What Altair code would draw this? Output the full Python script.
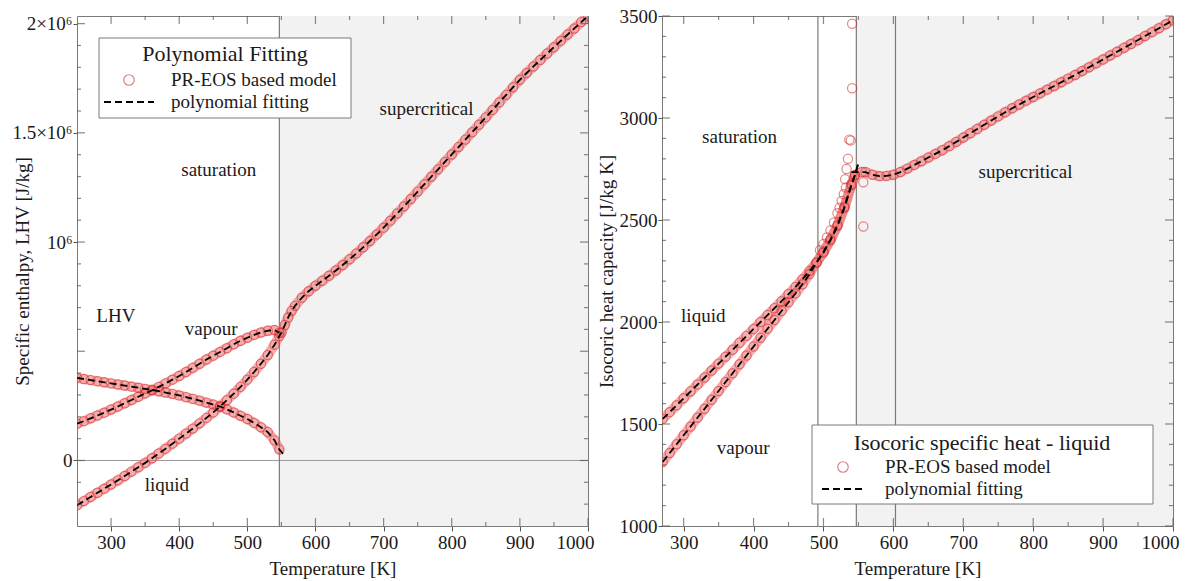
import altair as alt
import pandas as pd

# ---------------- Left panel: specific enthalpy / LHV [J/kg] ----------------
T_sat_L = [250, 260, 270, 280, 290, 300, 310, 320, 330, 340,
           350, 360, 370, 380, 390, 400, 410, 420, 430, 440,
           450, 460, 470, 480, 490, 500, 510, 520, 530, 540, 547]
h_liquid = [-205000, -186000, -167000, -148000, -129000, -110000, -91000, -71000, -51000, -31000,
            -11000, 10000, 32000, 54000, 77000, 100000, 123000, 146000, 170000, 195000,
            220000, 247000, 276000, 306000, 337000, 370000, 405000, 443000, 483000, 530000, 570000]
h_vapour = [168000, 180000, 193000, 206000, 219000, 233000, 247000, 262000, 277000, 292000,
            307000, 321000, 337000, 353000, 370000, 387000, 405000, 424000, 443000, 462000,
            480000, 497000, 514000, 532000, 548000, 562000, 575000, 586000, 594000, 597000, 585000]
h_lhv = [378000, 373000, 368000, 363000, 358000, 353000, 348000, 343000, 338000, 333000,
         328000, 323000, 317000, 311000, 305000, 298000, 290000, 282000, 274000, 265000,
         256000, 247000, 234000, 220000, 205000, 190000, 172000, 152000, 130000, 92000, 50000]
T_sc_L = [550, 555, 560, 565, 570, 580, 590, 600, 610, 620, 630, 640, 650, 660, 670, 680, 690,
          700, 710, 720, 730, 740, 750, 760, 770, 780, 790, 800, 810, 820, 830, 840, 850,
          860, 870, 880, 890, 900, 910, 920, 930, 940, 950, 960, 970, 980, 990, 1000]
h_super = [585000, 620000, 655000, 685000, 708000, 745000, 775000, 800000, 823000, 846000,
           870000, 895000, 921000, 948000, 976000, 1005000, 1035000,
           1066000, 1098000, 1131000, 1164000, 1197000, 1231000, 1265000, 1299000, 1333000,
           1367000, 1401000, 1435000, 1469000, 1503000, 1537000, 1571000,
           1605000, 1640000, 1674000, 1709000, 1743000, 1774000, 1804000, 1834000, 1863000,
           1892000, 1921000, 1950000, 1978000, 2007000, 2035000]
T_lhv_fit_end = [556]
h_lhv_fit_end = [18000]
crit_L = [547]
shade_L = [547, 1000]
zero_L = [0]
xdom_L = [250, 1000]
ydom_L = [-300000, 2035000]
ann_L_text = ["saturation", "supercritical", "LHV", "vapour", "liquid"]
ann_L_T = [458, 763, 307, 447, 382]
ann_L_v = [1332000, 1607000, 660000, 604000, -110000]
xmaj_L = [300, 400, 500, 600, 700, 800, 900, 1000]
xmin_L = [350, 450, 550, 650, 750, 850, 950]
ymaj_L = [0, 500000, 1000000, 1500000, 2000000]
ymin_L = [-200000, -100000, 100000, 200000, 300000, 400000, 600000, 700000, 800000, 900000,
          1100000, 1200000, 1300000, 1400000, 1600000, 1700000, 1800000, 1900000]
ylab_L = [0, 1000000, 1500000, 2000000]

# ---------------- Right panel: isochoric heat capacity [J/kg K] ----------------
T_sat_R = [270, 280, 290, 300, 310, 320, 330, 340, 350, 360, 370, 380, 390, 400,
           410, 420, 430, 440, 450, 460, 470, 480, 490, 500, 510, 520, 530, 540, 545]
cv_liquid = [1525, 1558, 1592, 1626, 1660, 1694, 1728, 1762, 1796, 1830, 1864, 1898, 1932, 1966,
             2000, 2034, 2068, 2102, 2137, 2172, 2210, 2250, 2292, 2340, 2400, 2470, 2560, 2670, 2720]
cv_vapour = [1314, 1358, 1401, 1445, 1488, 1532, 1575, 1619, 1662, 1706, 1749, 1793, 1836, 1880,
             1923, 1967, 2010, 2054, 2097, 2140, 2185, 2235, 2290, 2345, 2405, 2475, 2565, 2675, 2720]
T_cluster = [495, 500, 505, 510, 515, 520, 523, 526, 529, 532]
cv_cluster = [2352, 2382, 2414, 2449, 2488, 2533, 2560, 2593, 2626, 2659]
T_outlier = [541, 541, 537, 539, 535, 533, 531, 557, 557]
cv_outlier = [3462, 3146, 2894, 2890, 2800, 2750, 2700, 2685, 2468]
T_sc_R = [555, 560, 570, 580, 590, 600, 610, 620, 630, 640, 650, 660, 670, 680, 690,
          700, 710, 720, 730, 740, 750, 760, 770, 780, 790, 800, 810, 820, 830, 840, 850,
          860, 870, 880, 890, 900, 910, 920, 930, 940, 950, 960, 970, 980, 990, 1000]
cv_super = [2735, 2735, 2722, 2715, 2716, 2722, 2735, 2752, 2770, 2788, 2806, 2824, 2842, 2862, 2883,
            2904, 2925, 2946, 2967, 2988, 3008, 3028, 3048, 3066, 3085, 3103, 3121, 3139, 3157, 3175, 3193,
            3211, 3230, 3249, 3268, 3287, 3306, 3325, 3344, 3363, 3382, 3402, 3421, 3440, 3460, 3479]
T_sat_fit_end = [550]
cv_sat_fit_end = [2780]
T_sc_fit_start = [540]
cv_sc_fit_start = [2735]
vlines_R = [492, 547, 603]
shade_R = [547, 1000]
xdom_R = [269, 1000]
ydom_R = [1000, 3500]
ann_R_text = ["saturation", "supercritical", "liquid", "vapour"]
ann_R_T = [380, 789, 328, 385]
ann_R_v = [2906, 2734, 2031, 1383]
xmaj_R = [300, 400, 500, 600, 700, 800, 900, 1000]
xmin_R = [350, 450, 550, 650, 750, 850, 950]
ymaj_R = [1000, 1500, 2000, 2500, 3000, 3500]
ymin_R = [1100, 1200, 1300, 1400, 1600, 1700, 1800, 1900, 2100, 2200, 2300, 2400,
          2600, 2700, 2800, 2900, 3100, 3200, 3300, 3400]

# ---------------- styling ----------------
FONT = "Liberation Serif"
INK = "#1a1a1a"
GRAY = "#7a7a7a"
TICK = "#555555"
RED = "#d42a2a"
BAND = "#ec6a6a"
W, H = 511, 510
MAJ, MIN = 8, 4


def frame(rows):
    return pd.DataFrame(rows, columns=["curve", "T", "v"])


def axes_layers(df, sx, sy, xlabels, ylabels, ylabel_expr, yfmt, ytitle, ytitle_x):
    base = alt.Chart(df).mark_point(opacity=0)
    xlab = alt.Axis(orient="bottom", values=xlabels, ticks=True, tickSize=5, tickColor=TICK,
                    tickWidth=1, domain=True, domainColor=GRAY,
                    grid=False, title="Temperature [K]", labelFontSize=19, titleFontSize=19,
                    labelPadding=2, titleY=42, titleBaseline="middle", titleFontWeight="normal",
                    labelFont=FONT, titleFont=FONT, labelColor=INK, titleColor=INK,
                    format="d", labelFlush=True, labelFlushOffset=6)
    ykw = dict(orient="left", values=ylabels, ticks=True, tickSize=4, tickColor=TICK, tickWidth=1,
               domain=True, domainColor=GRAY,
               grid=False, title=ytitle, labelFontSize=19, titleFontSize=19, labelPadding=1,
               titleX=ytitle_x, titleBaseline="middle", titleFontWeight="normal",
               labelFont=FONT, titleFont=FONT, labelColor=INK, titleColor=INK)
    if ylabel_expr:
        ykw["labelExpr"] = ylabel_expr
    else:
        ykw["format"] = yfmt
    ylab = alt.Axis(**ykw)
    xtop = alt.Axis(orient="bottom", offset=-H, ticks=False, labels=False, domain=True,
                    domainColor=GRAY, grid=False, title="")
    yright = alt.Axis(orient="left", offset=-W, ticks=False, labels=False, domain=True,
                      domainColor=GRAY, grid=False, title="")
    return [
        base.encode(x=alt.X("T:Q", scale=sx, axis=xlab), y=alt.Y("v:Q", scale=sy, axis=ylab)),
        base.encode(x=alt.X("T:Q", scale=sx, axis=xtop), y=alt.Y("v:Q", scale=sy, axis=yright)),
    ]


def tick_marks(sx, sy, xmaj, xmin, ymaj, ymin):
    """Inward-pointing axis ticks on all four sides (positions from the tick value lists)."""
    layers = []
    for vals, L in ((xmaj, MAJ), (xmin, MIN)):
        df = pd.DataFrame({"tick": vals})
        xe = alt.X("tick:Q", scale=sx, axis=None)
        layers.append(alt.Chart(df).mark_tick(color=TICK, size=L, thickness=1.2).encode(
            x=xe, y=alt.value(H - L / 2)))
        layers.append(alt.Chart(df).mark_tick(color=TICK, size=L, thickness=1.2).encode(
            x=xe, y=alt.value(L / 2)))
    for vals, L in ((ymaj, MAJ), (ymin, MIN)):
        df = pd.DataFrame({"tick": vals})
        ye = alt.Y("tick:Q", scale=sy, axis=None)
        layers.append(alt.Chart(df).mark_tick(color=TICK, size=L, thickness=1.2).encode(
            y=ye, x=alt.value(L / 2)))
        layers.append(alt.Chart(df).mark_tick(color=TICK, size=L, thickness=1.2).encode(
            y=ye, x=alt.value(W - L / 2)))
    return layers


def data_layers(band_df, pr_df, fit_df, sx, sy):
    band = alt.Chart(band_df).mark_line(color=BAND, strokeWidth=10, opacity=0.55, clip=True,
                                        strokeCap="round").encode(
        x=alt.X("T:Q", scale=sx, axis=None), y=alt.Y("v:Q", scale=sy, axis=None), detail="curve:N")
    pts = alt.Chart(pr_df).mark_point(shape="circle", filled=False, size=85, color=RED,
                                      strokeWidth=1.2, opacity=0.55, clip=True).encode(
        x=alt.X("T:Q", scale=sx, axis=None), y=alt.Y("v:Q", scale=sy, axis=None))
    fit = alt.Chart(fit_df).mark_line(color="black", strokeWidth=1.8, strokeDash=[7, 4], clip=True).encode(
        x=alt.X("T:Q", scale=sx, axis=None), y=alt.Y("v:Q", scale=sy, axis=None), detail="curve:N")
    return [band, pts, fit]


def legend_layers(box, title, title_xy, circ_xy, line_x, line_y, text_x):
    one = alt.Chart(pd.DataFrame({"k": [0]}))
    return [
        one.mark_rect(fill="white", stroke=GRAY, strokeWidth=1).encode(
            x=alt.value(box[0]), x2=alt.value(box[1]), y=alt.value(box[2]), y2=alt.value(box[3])),
        one.mark_text(font=FONT, fontSize=22, color=INK, align="center", baseline="middle").encode(
            x=alt.value(title_xy[0]), y=alt.value(title_xy[1]), text=alt.value(title)),
        one.mark_point(shape="circle", filled=False, size=110, color=RED, strokeWidth=1.2, opacity=0.6).encode(
            x=alt.value(circ_xy[0]), y=alt.value(circ_xy[1])),
        one.mark_text(font=FONT, fontSize=19, color=INK, align="left", baseline="middle").encode(
            x=alt.value(text_x), y=alt.value(circ_xy[1]), text=alt.value("PR-EOS based model")),
        one.mark_rule(color="black", strokeWidth=2, strokeDash=[7, 4]).encode(
            x=alt.value(line_x[0]), x2=alt.value(line_x[1]), y=alt.value(line_y)),
        one.mark_text(font=FONT, fontSize=19, color=INK, align="left", baseline="middle").encode(
            x=alt.value(text_x), y=alt.value(line_y), text=alt.value("polynomial fitting")),
    ]


# ---------------- build left panel ----------------
sxL = alt.Scale(domain=xdom_L, nice=False, zero=False)
syL = alt.Scale(domain=ydom_L, nice=False, zero=False)

liqL = [("liquid", t, v) for t, v in zip(T_sat_L + T_sc_L, h_liquid + h_super)]
vapL = [("vapour", t, v) for t, v in zip(T_sat_L, h_vapour)]
lhvL = [("lhv", t, v) for t, v in zip(T_sat_L, h_lhv)]
prL = frame(liqL + vapL + lhvL)
fitL = frame(liqL + vapL + lhvL + [("lhv", t, v) for t, v in zip(T_lhv_fit_end, h_lhv_fit_end)])

shadeL = alt.Chart(pd.DataFrame({"a": [shade_L[0]], "b": [shade_L[1]]})).mark_rect(color="#f2f2f2").encode(
    x=alt.X("a:Q", scale=sxL, axis=None), x2="b:Q", y=alt.value(0), y2=alt.value(H))
zeroL = alt.Chart(pd.DataFrame({"z": zero_L})).mark_rule(color="#9a9a9a", strokeWidth=1).encode(
    y=alt.Y("z:Q", scale=syL, axis=None))
critL = alt.Chart(pd.DataFrame({"c": crit_L})).mark_rule(color=GRAY, strokeWidth=1.2).encode(
    x=alt.X("c:Q", scale=sxL, axis=None))
annL = alt.Chart(pd.DataFrame({"T": ann_L_T, "v": ann_L_v, "t": ann_L_text})).mark_text(
    font=FONT, fontSize=19, color=INK, baseline="middle").encode(
    x=alt.X("T:Q", scale=sxL, axis=None), y=alt.Y("v:Q", scale=syL, axis=None), text="t:N")

ylabL = ("datum.value == 0 ? '0' : datum.value == 1000000 ? '10⁶' : datum.value == 1500000 ? "
         "'1.5×10⁶' : datum.value == 2000000 ? '2×10⁶' : ''")

left = alt.layer(
    shadeL, zeroL, critL,
    *data_layers(prL, prL, fitL, sxL, syL),
    annL,
    *legend_layers([22, 274, 22, 102], "Polynomial Fitting", (148, 38), (52, 64), (27, 77), 86, 94),
    *axes_layers(prL, sxL, syL, xmaj_L, ylab_L, ylabL, "", "Specific enthalpy, LHV [J/kg]", -55),
    *tick_marks(sxL, syL, xmaj_L, xmin_L, ymaj_L, ymin_L),
).resolve_scale(x="shared", y="shared").resolve_axis(x="independent", y="independent").properties(
    width=W, height=H)

# ---------------- build right panel ----------------
sxR = alt.Scale(domain=xdom_R, nice=False, zero=False)
syR = alt.Scale(domain=ydom_R, nice=False, zero=False)

liqR = [("liquid", t, v) for t, v in zip(T_sat_R, cv_liquid)]
vapR = [("vapour", t, v) for t, v in zip(T_sat_R, cv_vapour)]
scR = [("super", t, v) for t, v in zip(T_sc_R, cv_super)]
bandR = frame(liqR + vapR + scR)
prR = frame(liqR + vapR + scR
            + [("cluster", t, v) for t, v in zip(T_cluster, cv_cluster)]
            + [("outlier", t, v) for t, v in zip(T_outlier, cv_outlier)])
fitR = frame(liqR + vapR
             + [("liquid", t, v) for t, v in zip(T_sat_fit_end, cv_sat_fit_end)]
             + [("vapour", t, v) for t, v in zip(T_sat_fit_end, cv_sat_fit_end)]
             + [("super", t, v) for t, v in zip(T_sc_fit_start, cv_sc_fit_start)] + scR)

shadeR = alt.Chart(pd.DataFrame({"a": [shade_R[0]], "b": [shade_R[1]]})).mark_rect(color="#f2f2f2").encode(
    x=alt.X("a:Q", scale=sxR, axis=None), x2="b:Q", y=alt.value(0), y2=alt.value(H))
vR = alt.Chart(pd.DataFrame({"c": vlines_R})).mark_rule(color=GRAY, strokeWidth=1.2).encode(
    x=alt.X("c:Q", scale=sxR, axis=None))
annR = alt.Chart(pd.DataFrame({"T": ann_R_T, "v": ann_R_v, "t": ann_R_text})).mark_text(
    font=FONT, fontSize=19, color=INK, baseline="middle").encode(
    x=alt.X("T:Q", scale=sxR, axis=None), y=alt.Y("v:Q", scale=syR, axis=None), text="t:N")

right = alt.layer(
    shadeR, vR,
    *data_layers(bandR, prR, fitR, sxR, syR),
    annR,
    *legend_layers([150, 491, 409, 488], "Isocoric specific heat - liquid", (320, 427), (181, 451),
                   (160, 201), 473, 223),
    *axes_layers(prR, sxR, syR, xmaj_R, ymaj_R, "", "d", "Isocoric heat capacity [J/kg K]", -56),
    *tick_marks(sxR, syR, xmaj_R, xmin_R, ymaj_R, ymin_R),
).resolve_scale(x="shared", y="shared").resolve_axis(x="independent", y="independent").properties(
    width=W, height=H)

chart = alt.hconcat(left, right, spacing=1).properties(
    padding={"left": 11, "top": 6, "right": 5, "bottom": 2}
).configure_view(strokeWidth=0).configure(font=FONT)

chart.save("out.html", embed_options={"renderer": "svg", "actions": False})
